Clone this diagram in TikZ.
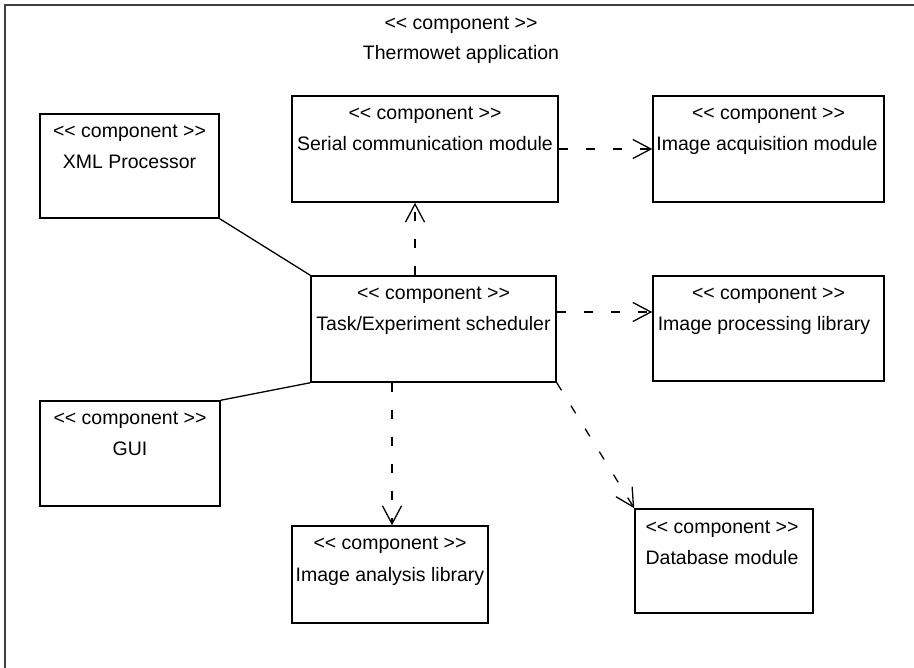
\documentclass[tikz,border=0pt]{standalone}
\usepackage{fontspec}
\setmainfont{Liberation Sans}
\usetikzlibrary{arrows.meta}
% stereotype label; kerns keep "<<" and ">>" from turning into guillemets
\newcommand\stereo{<\kern0pt< component >\kern0pt>}
\begin{document}
\begin{tikzpicture}[x=1pt,y=-1pt,
  comp/.style={draw=black,line width=1.5pt,rectangle,inner sep=0pt},
  txt/.style={anchor=base,inner sep=0pt,font=\fontsize{19.5}{23}\selectfont},
  assoc/.style={draw=black,line width=1.3pt},
  dep/.style={draw=black,line width=1.3pt,dash pattern=on 9pt off 18pt,
    -{Straight Barb[length=18pt,width=19pt,line width=1.3pt]}},
  frame/.style={draw=black!75,line width=2pt}]
\useasboundingbox (0,0) rectangle (914,668);
\clip (0,0) rectangle (914,668);

% enclosing component
\draw[frame] (4.5,5.5) rectangle (960,720);
\node[txt] (appA) at (461,30) {\stereo};
\node[txt] (appB) at (461,60) {Thermowet application};

% components
\node[comp,minimum width=179pt,minimum height=104pt] (xml) at (129.5,166) {};
\node[txt] (xmlA) at (129.5,138) {\stereo};
\node[txt] (xmlB) at (129.5,169) {XML Processor};

\node[comp,minimum width=266pt,minimum height=106pt] (serial) at (425,149) {};
\node[txt] (serialA) at (425,120) {\stereo};
\node[txt] (serialB) at (425,151) {Serial communication module};

\node[comp,minimum width=231pt,minimum height=106pt] (acq) at (768.5,149) {};
\node[txt] (acqA) at (768.5,120) {\stereo};
\node[txt] (acqB) at (767,151) {Image acquisition module};

\node[comp,minimum width=245pt,minimum height=106pt] (task) at (433.5,329) {};
\node[txt] (taskA) at (433.5,300) {\stereo};
\node[txt] (taskB) at (433.5,331) {Task/Experiment scheduler};

\node[comp,minimum width=231pt,minimum height=105pt] (proc) at (768.5,328.5) {};
\node[txt] (procA) at (768.5,300) {\stereo};
\node[txt] (procB) at (764,331) {Image processing library};

\node[comp,minimum width=180pt,minimum height=105pt] (gui) at (130,453.5) {};
\node[txt] (guiA) at (130,425) {\stereo};
\node[txt] (guiB) at (130,456) {GUI};

\node[comp,minimum width=196pt,minimum height=97pt] (ana) at (390,574.5) {};
\node[txt] (anaA) at (390,550) {\stereo};
\node[txt] (anaB) at (390,581) {Image analysis library};

\node[comp,minimum width=178pt,minimum height=104pt] (db) at (724,561) {};
\node[txt] (dbA) at (722,533) {\stereo};
\node[txt] (dbB) at (722,564) {Database module};

% connector guide positions
\coordinate (xa) at (415,0);
\coordinate (xb) at (392,0);
\coordinate (ya) at (0,312);

% associations
\draw[assoc] (xml.south east) -- (task.north west);
\draw[assoc] (gui.north east) -- (task.south west);

% dependencies
\draw[dep] (task.north -| xa) -- (serial.south -| xa);
\draw[dep] (serial.east) -- (acq.west);
\draw[dep] (task.east |- ya) -- (proc.west |- ya);
\draw[dep] (task.south -| xb) -- (ana.north -| xb);
\draw[dep] (task.south east) -- (db.north west);
\end{tikzpicture}
\end{document}
